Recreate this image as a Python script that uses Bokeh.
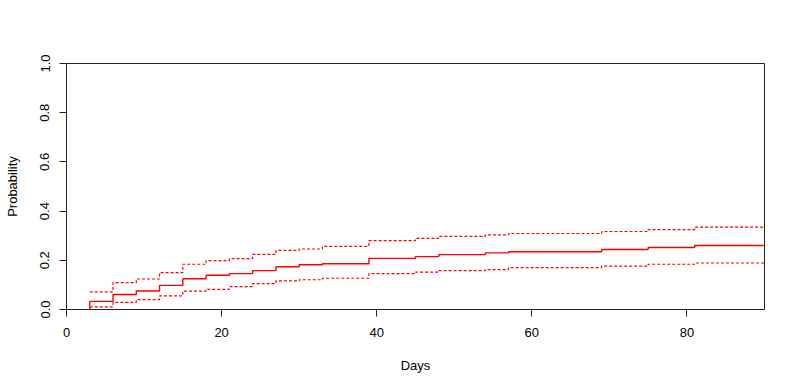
from bokeh.plotting import figure
from bokeh.models import FixedTicker, NumeralTickFormatter, Range1d
from bokeh.embed import file_html
from bokeh.resources import INLINE

# Data (cumulative incidence with confidence bounds)
days = [3, 6, 9, 12, 15, 18, 21, 24, 27, 30, 33, 39, 45, 48, 54, 57, 69, 75, 81]
estimate = [0.033, 0.061, 0.075, 0.098, 0.125, 0.139, 0.146, 0.158, 0.174, 0.182,
            0.186, 0.208, 0.215, 0.223, 0.230, 0.235, 0.244, 0.252, 0.260]
upper = [0.072, 0.109, 0.124, 0.150, 0.184, 0.199, 0.207, 0.224, 0.240, 0.246,
         0.257, 0.280, 0.289, 0.297, 0.303, 0.309, 0.317, 0.325, 0.335]
lower = [0.011, 0.029, 0.040, 0.055, 0.075, 0.082, 0.093, 0.105, 0.116, 0.121,
         0.127, 0.146, 0.152, 0.158, 0.162, 0.170, 0.176, 0.184, 0.189]
x_ticks = [0, 20, 40, 60, 80]
y_ticks = [0.0, 0.2, 0.4, 0.6, 0.8, 1.0]
x_max = 90

FONT = "Liberation Sans"

p = figure(width=781, height=375, output_backend="svg", toolbar_location=None,
           x_range=Range1d(0, x_max), y_range=Range1d(0, 1),
           min_border_left=66, min_border_right=17, min_border_top=63,
           min_border_bottom=60)
p.background_fill_color = "white"
p.border_fill_color = "white"
p.outline_line_color = "#222222"
p.outline_line_width = 1
p.xgrid.visible = False
p.ygrid.visible = False

# Step curves (start at zero at the first event, extend to the end of the axis)
ext_days = [days[0]] + days + [x_max]
ext_est = [0] + estimate + [estimate[-1]]
p.step(ext_days, ext_est, mode="after", line_color="#ff0000", line_width=1.4)
p.step(days + [x_max], upper + [upper[-1]], mode="after", line_color="#ff0000",
       line_width=1.2, line_dash="3 2")
p.step(days + [x_max], lower + [lower[-1]], mode="after", line_color="#ff0000",
       line_width=1.2, line_dash="3 2")

for ax in (p.xaxis[0], p.yaxis[0]):
    ax.axis_line_color = None
    ax.major_tick_line_color = "#222222"
    ax.major_tick_out = 7
    ax.major_tick_in = 0
    ax.minor_tick_line_color = None
    ax.major_label_text_font = FONT
    ax.major_label_text_font_size = "13px"
    ax.major_label_text_color = "black"
    ax.axis_label_text_font = FONT
    ax.axis_label_text_font_size = "13px"
    ax.axis_label_text_font_style = "normal"
    ax.axis_label_text_color = "black"

p.xaxis.ticker = FixedTicker(ticks=x_ticks)
p.yaxis.ticker = FixedTicker(ticks=y_ticks)
p.yaxis.formatter = NumeralTickFormatter(format="0.0")
p.yaxis.major_label_orientation = "vertical"
p.xaxis.axis_label = "Days"
p.yaxis.axis_label = "Probability"
p.xaxis.major_label_standoff = 11
p.xaxis.axis_label_standoff = 18
p.yaxis.major_label_standoff = 10
p.yaxis.axis_label_standoff = 18

open("out.html", "w").write(file_html(p, INLINE))
